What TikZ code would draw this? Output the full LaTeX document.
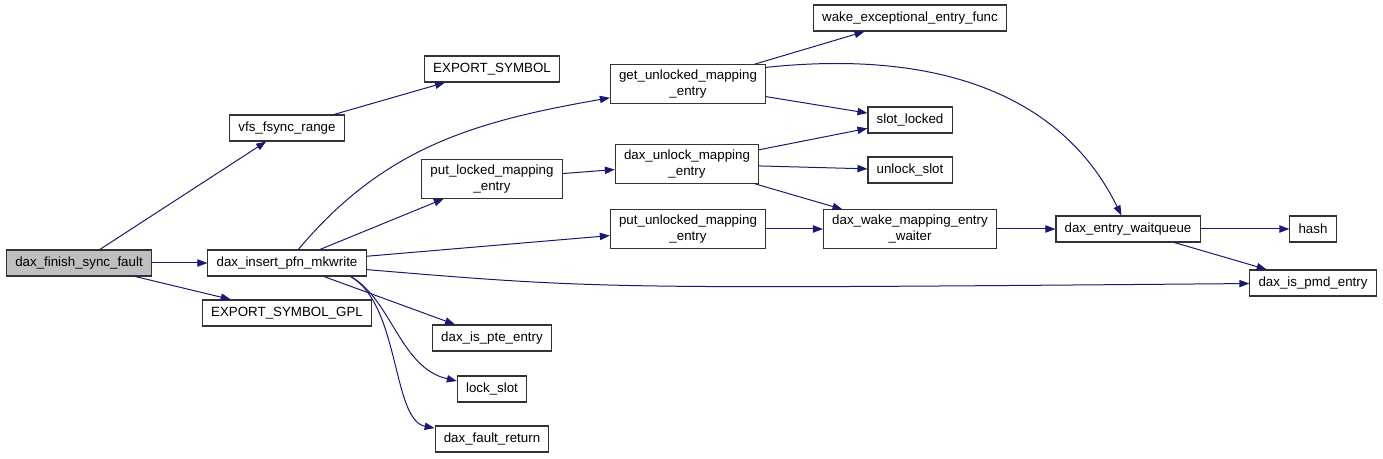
\documentclass[tikz,border=0pt]{standalone}
\usepackage{fontspec}
\setmainfont{Liberation Sans}
\usetikzlibrary{arrows.meta}
\definecolor{edgeblue}{HTML}{191970}
\definecolor{rootgray}{HTML}{BFBFBF}
\definecolor{boxline}{HTML}{333333}

\begin{document}
\begin{tikzpicture}[x=0.75pt, y=-0.75pt,
        fnbox/.style={draw=boxline, line width=0.8pt, inner xsep=6.5pt, inner ysep=4pt,
            minimum height=19.5pt, align=center, font=\fontsize{10}{11.5}\selectfont},
        callarrow/.style={draw=edgeblue, line width=0.75pt, -{Triangle[length=7.5pt,width=5.5pt]}}]
        \useasboundingbox (0,0) rectangle (1383,459);

        % Funcoes
        \node[fnbox, fill=rootgray] (finish) at (79,263) {dax\_finish\_sync\_fault};
        \node[fnbox] (vfs) at (287,128) {vfs\_fsync\_range};
        \node[fnbox] (insert) at (287,263) {dax\_insert\_pfn\_mkwrite};
        \node[fnbox] (gpl) at (287,313) {EXPORT\_SYMBOL\_GPL};
        \node[fnbox] (export) at (492,69) {EXPORT\_SYMBOL};
        \node[fnbox] (putl) at (492,179) {put\_locked\_mapping\\\_entry};
        \node[fnbox] (pte) at (492,338) {dax\_is\_pte\_entry};
        \node[fnbox] (lock) at (492,389) {lock\_slot};
        \node[fnbox] (fault) at (492,439) {dax\_fault\_return};
        \node[fnbox] (getu) at (688,84) {get\_unlocked\_mapping\\\_entry};
        \node[fnbox] (unl) at (687,164) {dax\_unlock\_mapping\\\_entry};
        \node[fnbox] (putu) at (688,229) {put\_unlocked\_mapping\\\_entry};
        \node[fnbox] (wakeexc) at (910,18) {wake\_exceptional\_entry\_func};
        \node[fnbox] (slotl) at (910,120) {slot\_locked};
        \node[fnbox] (unslot) at (910,170) {unlock\_slot};
        \node[fnbox] (wake) at (910,229) {dax\_wake\_mapping\_entry\\\_waiter};
        \node[fnbox] (wq) at (1128,229) {dax\_entry\_waitqueue};
        \node[fnbox] (hash) at (1313,229) {hash};
        \node[fnbox] (pmd) at (1313,283) {dax\_is\_pmd\_entry};

        % Chamadas
        \draw[callarrow] (finish) -- (vfs);
        \draw[callarrow] (finish) -- (insert);
        \draw[callarrow] (finish) -- (gpl);
        \draw[callarrow] (vfs) -- (export);
        \draw[callarrow] (insert) to[out=50, in=190] (getu);
        \draw[callarrow] (insert) -- (putl);
        \draw[callarrow] (insert) -- (putu);
        \draw[callarrow] (insert) .. controls (600,289) .. (pmd);
        \draw[callarrow] (insert) -- (pte);
        \draw[callarrow] (insert.-12) .. controls (392,300) and (400,368) .. (lock);
        \draw[callarrow] (insert.-12) .. controls (400,305) and (392,420) .. (fault);
        \draw[callarrow] (putl) -- (unl);
        \draw[callarrow] (getu) -- (wakeexc);
        \draw[callarrow] (getu) -- (slotl);
        \draw[callarrow] (getu.12) .. controls (930,50) and (1060,90) .. (wq);
        \draw[callarrow] (unl) -- (slotl);
        \draw[callarrow] (unl) -- (unslot);
        \draw[callarrow] (unl) -- (wake);
        \draw[callarrow] (putu) -- (wake);
        \draw[callarrow] (wake) -- (wq);
        \draw[callarrow] (wq) -- (hash);
        \draw[callarrow] (wq) -- (pmd);
    \end{tikzpicture}
\end{document}
